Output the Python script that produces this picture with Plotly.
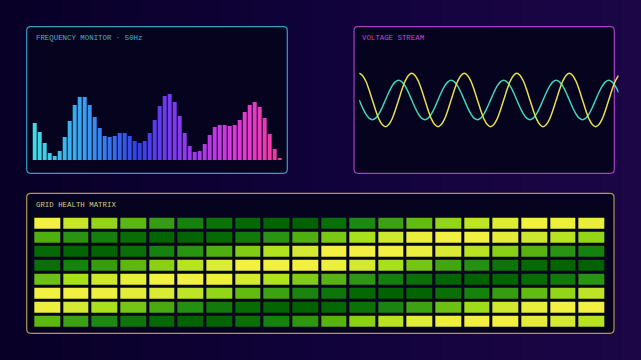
import plotly.graph_objects as go

W, H = 641, 360

# ---------------- data ----------------
freq_bins = list(range(1, 51))
freq_levels = [37, 28, 17, 7, 4, 9, 23, 39, 55, 63,
               63, 55, 43, 32, 24, 23, 24, 27, 27, 24,
               19, 17, 19, 27, 40, 54, 64, 66, 58, 44,
               27, 14, 8, 9, 16, 25, 33, 35, 35, 34,
               35, 40, 48, 55, 58, 53, 42, 26, 11, 2]

volt_t = list(range(80))
volt_a = [1.0, 0.92, 0.71, 0.38, 0.0, -0.38, -0.71, -0.92, -1.0, -0.92, -0.71, -0.38, 0.0, 0.38, 0.71, 0.92,
          1.0, 0.92, 0.71, 0.38, 0.0, -0.38, -0.71, -0.92, -1.0, -0.92, -0.71, -0.38, 0.0, 0.38, 0.71, 0.92,
          1.0, 0.92, 0.71, 0.38, 0.0, -0.38, -0.71, -0.92, -1.0, -0.92, -0.71, -0.38, 0.0, 0.38, 0.71, 0.92,
          1.0, 0.92, 0.71, 0.38, 0.0, -0.38, -0.71, -0.92, -1.0, -0.92, -0.71, -0.38, 0.0, 0.38, 0.71, 0.92,
          1.0, 0.92, 0.71, 0.38, 0.0, -0.38, -0.71, -0.92, -1.0, -0.92, -0.71, -0.38, 0.0, 0.38, 0.71, 0.92]
volt_b = [0.0, -0.28, -0.52, -0.68, -0.74, -0.68, -0.52, -0.28, 0.0, 0.28, 0.52, 0.68, 0.74, 0.68, 0.52, 0.28,
          0.0, -0.28, -0.52, -0.68, -0.74, -0.68, -0.52, -0.28, 0.0, 0.28, 0.52, 0.68, 0.74, 0.68, 0.52, 0.28,
          0.0, -0.28, -0.52, -0.68, -0.74, -0.68, -0.52, -0.28, 0.0, 0.28, 0.52, 0.68, 0.74, 0.68, 0.52, 0.28,
          0.0, -0.28, -0.52, -0.68, -0.74, -0.68, -0.52, -0.28, 0.0, 0.28, 0.52, 0.68, 0.74, 0.68, 0.52, 0.28,
          0.0, -0.28, -0.52, -0.68, -0.74, -0.68, -0.52, -0.28, 0.0, 0.28, 0.52, 0.68, 0.74, 0.68, 0.52, 0.28]

grid_cols = list(range(1, 21))
grid_rows = list(range(1, 9))
health = [
    [1.00, 0.85, 0.68, 0.50, 0.35, 0.20, 0.10, 0.04, 0.02, 0.00, 0.08, 0.25, 0.38, 0.52, 0.68, 0.82, 0.93, 1.00, 0.98, 0.97],
    [0.45, 0.30, 0.18, 0.07, 0.02, 0.02, 0.05, 0.15, 0.30, 0.45, 0.60, 0.75, 0.88, 0.97, 1.00, 1.00, 0.95, 0.88, 0.80, 0.68],
    [0.05, 0.02, 0.02, 0.08, 0.20, 0.30, 0.45, 0.62, 0.78, 0.90, 1.00, 1.00, 1.00, 0.98, 0.92, 0.80, 0.65, 0.48, 0.30, 0.20],
    [0.08, 0.20, 0.35, 0.50, 0.65, 0.80, 0.93, 1.00, 1.00, 1.00, 0.98, 0.90, 0.75, 0.58, 0.40, 0.28, 0.12, 0.05, 0.02, 0.00],
    [0.55, 0.75, 0.88, 0.96, 1.00, 1.00, 0.98, 0.90, 0.78, 0.62, 0.48, 0.32, 0.18, 0.08, 0.02, 0.00, 0.02, 0.06, 0.15, 0.30],
    [1.00, 1.00, 0.98, 0.95, 0.92, 0.82, 0.68, 0.52, 0.38, 0.22, 0.12, 0.04, 0.00, 0.02, 0.08, 0.20, 0.35, 0.52, 0.68, 0.82],
    [0.98, 0.90, 0.75, 0.58, 0.42, 0.28, 0.15, 0.06, 0.02, 0.00, 0.03, 0.10, 0.22, 0.38, 0.55, 0.72, 0.88, 0.96, 1.00, 1.00],
    [0.50, 0.38, 0.25, 0.12, 0.04, 0.00, 0.02, 0.08, 0.20, 0.32, 0.48, 0.65, 0.80, 0.94, 0.98, 1.00, 1.00, 0.95, 0.90, 0.80],
]

# ---------------- styling helpers ----------------
def hex2rgb(h):
    h = h.lstrip('#')
    return tuple(int(h[i:i + 2], 16) for i in (0, 2, 4))

def lerp_stops(stops, t):
    for (t0, c0), (t1, c1) in zip(stops[:-1], stops[1:]):
        if t <= t1:
            f = 0 if t1 == t0 else (t - t0) / (t1 - t0)
            a, b = hex2rgb(c0), hex2rgb(c1)
            return 'rgb(%d,%d,%d)' % tuple(round(a[i] + (b[i] - a[i]) * f) for i in range(3))
    return stops[-1][1]

bar_stops = [(0.0, '#40dce4'), (0.2, '#3aa0f0'), (0.42, '#3440e6'), (0.56, '#7a3af0'),
             (0.72, '#b83ae6'), (0.86, '#e43ad2'), (1.0, '#f03a98')]
n = len(freq_bins)
bar_colors = [lerp_stops(bar_stops, i / (n - 1)) for i in range(n)]

def px_x(x):
    return x / W

def px_y(y):
    return 1 - y / H

def rounded_rect(x0, y0, x1, y1, r=4):
    X0, X1 = px_x(x0), px_x(x1)
    Y0, Y1 = px_y(y0), px_y(y1)
    rx, ry = r / W, r / H
    return (f"M {X0+rx},{Y0} L {X1-rx},{Y0} Q {X1},{Y0} {X1},{Y0-ry} "
            f"L {X1},{Y1+ry} Q {X1},{Y1} {X1-rx},{Y1} L {X0+rx},{Y1} "
            f"Q {X0},{Y1} {X0},{Y1+ry} L {X0},{Y0-ry} Q {X0},{Y0} {X0+rx},{Y0} Z")

fig = go.Figure()

fig.add_trace(go.Bar(x=freq_bins, y=freq_levels, marker=dict(color=bar_colors, line=dict(width=0)),
                     xaxis='x', yaxis='y', showlegend=False, hoverinfo='skip'))

fig.add_trace(go.Scatter(x=volt_t, y=volt_b, mode='lines', line=dict(color='#3fd6b4', width=1.5, shape='spline'),
                         xaxis='x2', yaxis='y2', showlegend=False, hoverinfo='skip'))
fig.add_trace(go.Scatter(x=volt_t, y=volt_a, mode='lines', line=dict(color='#e6e048', width=1.5, shape='spline'),
                         xaxis='x2', yaxis='y2', showlegend=False, hoverinfo='skip'))

fig.add_trace(go.Heatmap(z=health, x=grid_cols, y=grid_rows, zmin=0, zmax=1, xgap=3, ygap=3,
                         colorscale=[[0, '#006200'], [0.25, '#1c8a12'], [0.5, '#5cb810'],
                                     [0.75, '#a8e01c'], [1, '#f2f040']],
                         showscale=False, xaxis='x3', yaxis='y3', hoverinfo='skip'))

shapes = []
# background gradient
NS = 64
for i in range(NS):
    c = lerp_stops([(0, '#080026'), (0.5, '#10023a'), (1, '#1c0646')], i / (NS - 1))
    shapes.append(dict(type='rect', xref='paper', yref='paper', x0=i / NS, x1=(i + 1) / NS + 0.002,
                       y0=0, y1=1, fillcolor=c, line=dict(width=0), layer='below'))

panels = [
    (26.7, 26.7, 287.3, 173.3, '#3c9cc4'),
    (354.0, 26.7, 614.3, 173.3, '#a640c8'),
    (26.7, 193.3, 614.0, 333.3, '#a89a58'),
]
for x0, y0, x1, y1, col in panels:
    shapes.append(dict(type='path', xref='paper', yref='paper', path=rounded_rect(x0, y0, x1, y1),
                       fillcolor='#05031e', line=dict(color=col, width=1.2), layer='below'))

annotations = [
    dict(text='FREQUENCY MONITOR · 50Hz', x=px_x(33.5), y=px_y(37.7), color='#4ab4c4'),
    dict(text='VOLTAGE STREAM', x=px_x(360.5), y=px_y(37.7), color='#c444c8'),
    dict(text='GRID HEALTH MATRIX', x=px_x(33.5), y=px_y(204.7), color='#d2c88a'),
]
ann = [dict(text=a['text'], x=a['x'], y=a['y'], xref='paper', yref='paper', xanchor='left', yanchor='middle',
            showarrow=False, font=dict(family='Liberation Mono, DejaVu Sans Mono, monospace', size=7.4,
                                       color=a['color'])) for a in annotations]

hidden = dict(visible=False, showgrid=False, zeroline=False, fixedrange=True)

fig.update_layout(
    width=W, height=H, margin=dict(l=0, r=0, t=0, b=0),
    paper_bgcolor='#0a0028', plot_bgcolor='rgba(0,0,0,0)',
    shapes=shapes, annotations=ann, bargap=0.2,
    xaxis=dict(domain=[px_x(32.2), px_x(282.2)], range=[0.5, 50.5], anchor='y', **hidden),
    yaxis=dict(domain=[px_y(160), px_y(60)], range=[0, 100], anchor='x', **hidden),
    xaxis2=dict(domain=[px_x(359.2), px_x(618.6)], range=[0, 79], anchor='y2', **hidden),
    yaxis2=dict(domain=[px_y(313.4) if False else px_y(153.4), px_y(46.6)], range=[-2, 2], anchor='x2', **hidden),
    xaxis3=dict(domain=[px_x(33.3), px_x(606.3)], range=[0.5, 20.5], anchor='y3', **hidden),
    yaxis3=dict(domain=[px_y(328.7), px_y(216.7)], range=[8.5, 0.5], anchor='x3', **hidden),
)

fig.write_html('out.html')
